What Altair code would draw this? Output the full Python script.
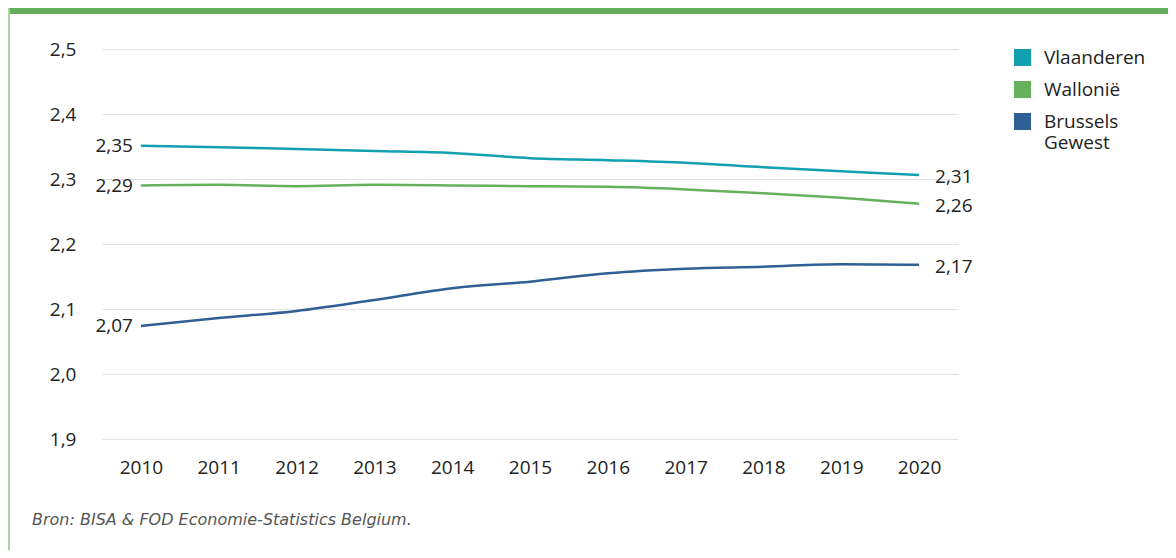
import altair as alt
import pandas as pd

years = [2010, 2011, 2012, 2013, 2014, 2015, 2016, 2017, 2018, 2019, 2020]
regions = ["Vlaanderen", "Wallonië", "Brussels Gewest"]
vlaanderen = [2.351, 2.349, 2.346, 2.343, 2.340, 2.332, 2.329, 2.325, 2.318, 2.312, 2.306]
wallonie = [2.290, 2.291, 2.289, 2.291, 2.290, 2.289, 2.288, 2.284, 2.278, 2.271, 2.262]
brussel = [2.074, 2.086, 2.097, 2.114, 2.132, 2.142, 2.155, 2.162, 2.165, 2.169, 2.168]
colors = ["#12a0b1", "#66b25c", "#2e5f95"]
y_ticks = [1.9, 2.0, 2.1, 2.2, 2.3, 2.4, 2.5]
source = ["Bron: BISA & FOD Economie-Statistics Belgium."]

rows = []
for name, vals in zip(regions, [vlaanderen, wallonie, brussel]):
    for yr, v in zip(years, vals):
        rows.append({"year": yr, "region": name, "value": v})
df = pd.DataFrame(rows)

FONT = "Open Sans"
W, H = 856, 390

x_enc = alt.X("year:O", scale=alt.Scale(type="point", padding=0.5),
              axis=alt.Axis(title=None, labelAngle=0, ticks=False, domain=False,
                            labelFontSize=19, labelColor="#222", labelPadding=19,
                            labelFont=FONT, grid=False))
y_enc = alt.Y("value:Q", scale=alt.Scale(domain=[1.9, 2.5], nice=False, zero=False),
              axis=alt.Axis(title=None, values=y_ticks, ticks=False, domain=False,
                            labelExpr="replace(format(datum.value, '.1f'), '.', ',')",
                            labelFontSize=19, labelColor="#222", labelPadding=26,
                            labelFont=FONT, grid=True, gridColor="#e3e3e3", gridWidth=1))

color_enc = alt.Color("region:N", scale=alt.Scale(domain=regions, range=colors),
                      legend=alt.Legend(title=None, orient="none", legendX=911, legendY=-1,
                                        symbolType="square", symbolSize=64, symbolStrokeWidth=9,
                                        symbolOpacity=1,
                                        labelFontSize=19, labelFont=FONT, labelColor="#222",
                                        labelOffset=12, rowPadding=-13, padding=0,
                                        labelExpr="datum.label == 'Brussels Gewest' ? ['Brussels', 'Gewest'] : datum.label"))

base = alt.Chart(df)

lines = base.mark_line(strokeWidth=2.5, interpolate="monotone").encode(
    x=x_enc, y=y_enc, color=color_enc)

lbl_calc = "replace(format(datum.value, '.2f'), '.', ',')"
left_labels = base.transform_filter(alt.datum.year == 2010).transform_calculate(
    lbl=lbl_calc).mark_text(align="right", baseline="middle", dx=-8, dy=0,
                            fontSize=19, font=FONT, color="#222").encode(
    x=alt.X("year:O"), y=alt.Y("value:Q"), text="lbl:N")

right_labels = base.transform_filter(alt.datum.year == 2020).transform_calculate(
    lbl=lbl_calc).mark_text(align="left", baseline="middle", dx=16, dy=2,
                            fontSize=19, font=FONT, color="#222").encode(
    x=alt.X("year:O"), y=alt.Y("value:Q"), text="lbl:N")

frame_df = pd.DataFrame({"k": [0]})
top_bar = alt.Chart(frame_df).mark_rect(color="#63ae5e").encode(
    x=alt.value(-94), x2=alt.value(1066), y=alt.value(-41), y2=alt.value(-35))
left_bar = alt.Chart(frame_df).mark_rect(color="#a5d69e").encode(
    x=alt.value(-94), x2=alt.value(-92), y=alt.value(-41), y2=alt.value(501))

caption = alt.Chart(pd.DataFrame({"txt": source})).mark_text(
    align="left", baseline="middle", fontSize=16, font="DejaVu Sans", fontStyle="italic",
    color="#555").encode(x=alt.value(-70), y=alt.value(471), text="txt:N")

chart = alt.layer(top_bar, left_bar, lines, left_labels, right_labels, caption).properties(
    width=W, height=H,
    padding={"left": 94, "top": 41, "right": 210, "bottom": 111},
    autosize=alt.AutoSizeParams(type="none"),
).configure_view(stroke=None)

chart.save("out.html", embed_options={"renderer": "svg", "actions": False})
